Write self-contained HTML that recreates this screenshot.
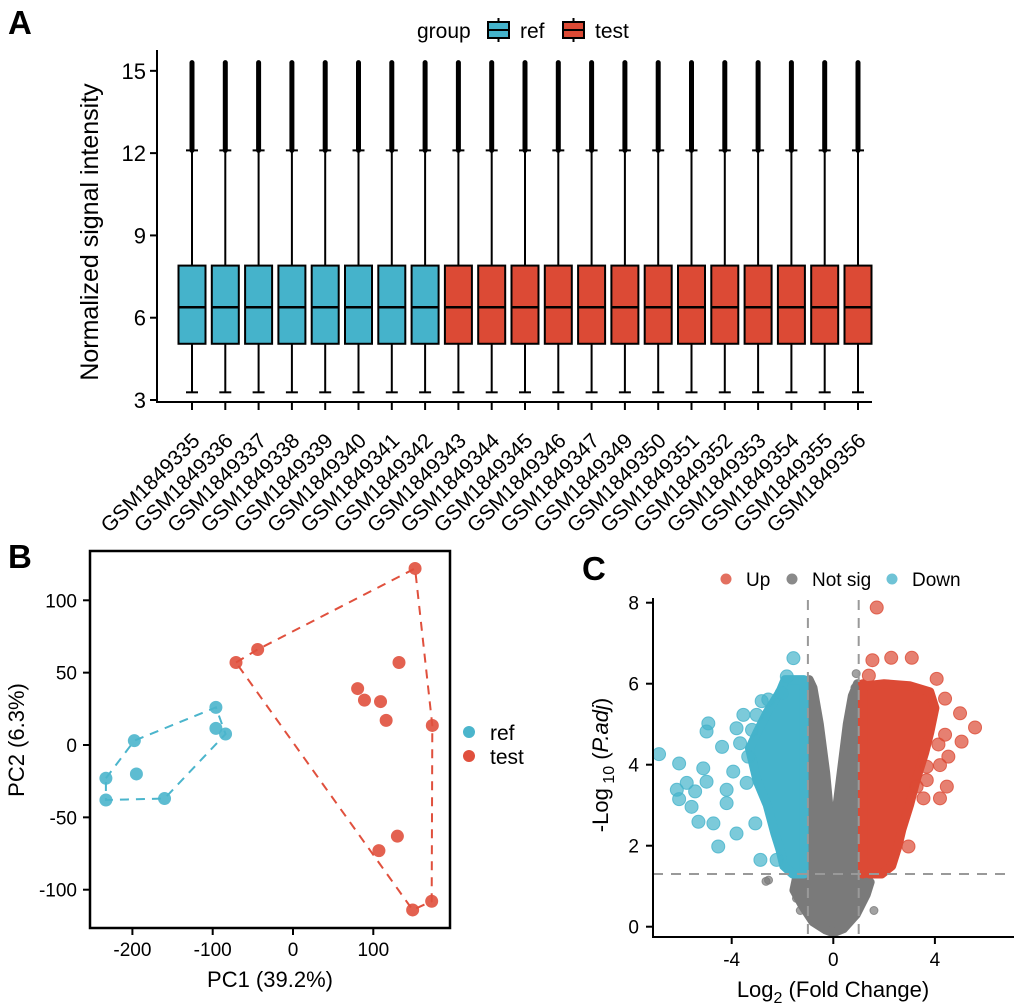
<!DOCTYPE html>
<html><head><meta charset="utf-8"><style>
body{margin:0;background:#fff;}
svg{display:block;font-family:"Liberation Sans",Arial,sans-serif;}
</style></head><body>
<svg id="fig" width="1020" height="1008" viewBox="0 0 1020 1008" xmlns="http://www.w3.org/2000/svg">
<text x="8" y="34" font-size="33" font-weight="bold">A</text>
<text x="8" y="568" font-size="33" font-weight="bold">B</text>
<text x="582" y="580" font-size="33" font-weight="bold">C</text>
<g id="pa"></g>
<g id="pb"></g>
<g id="pc"></g>
</svg>
<script>
// ---------- Panel A data ----------
const samples=["GSM1849335","GSM1849336","GSM1849337","GSM1849338","GSM1849339","GSM1849340","GSM1849341","GSM1849342","GSM1849343","GSM1849344","GSM1849345","GSM1849346","GSM1849347","GSM1849349","GSM1849350","GSM1849351","GSM1849352","GSM1849353","GSM1849354","GSM1849355","GSM1849356"];
const sampleGroup=["ref","ref","ref","ref","ref","ref","ref","ref","test","test","test","test","test","test","test","test","test","test","test","test","test"];
const boxQ1=[5.05,5.05,5.05,5.05,5.05,5.05,5.05,5.05,5.05,5.05,5.05,5.05,5.05,5.05,5.05,5.05,5.05,5.05,5.05,5.05,5.05];
const boxMed=[6.38,6.38,6.38,6.38,6.38,6.38,6.38,6.38,6.38,6.38,6.38,6.38,6.38,6.38,6.38,6.38,6.38,6.38,6.38,6.38,6.38];
const boxQ3=[7.9,7.9,7.9,7.9,7.9,7.9,7.9,7.9,7.9,7.9,7.9,7.9,7.9,7.9,7.9,7.9,7.9,7.9,7.9,7.9,7.9];
const boxLo=[3.28,3.28,3.28,3.28,3.28,3.28,3.28,3.28,3.28,3.28,3.28,3.28,3.28,3.28,3.28,3.28,3.28,3.28,3.28,3.28,3.28];
const boxHi=[12.1,12.1,12.1,12.1,12.1,12.1,12.1,12.1,12.1,12.1,12.1,12.1,12.1,12.1,12.1,12.1,12.1,12.1,12.1,12.1,12.1];
const outMax=[15.3,15.3,15.3,15.3,15.3,15.3,15.3,15.3,15.3,15.3,15.3,15.3,15.3,15.3,15.3,15.3,15.3,15.3,15.3,15.3,15.3];
const aTicks=[3,6,9,12,15];
// ---------- Panel B data ----------
const refPC1=[-233,-233,-197.6,-195,-160,-96,-96,-84];
const refPC2=[-23,-38,3,-20,-37,26,11.5,7.6];
const testPC1=[152,-44,-71,132,80.5,89,109,116,173.5,130,107,149,172.7];
const testPC2=[122,66,57,57,39,31,30,17,13.5,-63,-73,-114,-108];
const refHull=[0,2,5,7,4,1];
const testHull=[2,1,0,8,12,11];
const bXTicks=[-200,-100,0,100];
const bYTicks=[-100,-50,0,50,100];
// ---------- Panel C data ----------
const downX=[-1.57,-6.86,-6.07,-6.16,-6.07,-5.58,-5.31,-4.92,-4.99,-5.12,-4.99,-4.53,-4.72,-4.38,-3.94,-3.54,-3.02,-3.81,-3.2,-2.82,-2.56,-3.81,-4.2,-2.87,-2.23,-3.07,-4.2,-5.77,-5.44,-3.41,-1.83,-2.03,-3.67,-3.35];
const downY=[6.63,4.26,4.03,3.38,3.15,2.96,2.59,5.02,4.82,3.91,3.58,1.98,2.55,4.44,3.83,5.23,5.23,4.9,4.86,5.57,5.61,2.3,3.05,1.65,1.65,2.55,3.38,3.55,3.34,3.55,6.18,5.77,4.53,4.2];
const upX=[1.71,1.54,2.28,3.09,5.58,5.05,4.99,4.4,4.14,4.53,4.2,3.68,4.47,4.2,3.55,2.96,4.07,4.4,3.68,3.28,1.4];
const upY=[7.88,6.58,6.64,6.64,4.92,4.57,5.27,4.74,4.5,4.2,3.99,3.95,3.46,3.17,3.17,1.98,6.12,5.63,3.62,3.46,6.2];
const nsX=[-2.65,-2.55,-1.3,1.6,-1.45,1.3,0.9,0.85];
const nsY=[1.12,1.15,0.4,0.4,0.7,1.1,6.25,5.9];
// envelopes of the dense point clouds (data coords)
const downEnvX=[-1.15,-1.9,-2.1,-2.6,-3.0,-3.3,-3.0,-2.6,-2.3,-2.1,-1.95,-1.6,-1.15];
const downEnvY=[6.1,6.1,5.8,5.3,4.8,4.4,3.6,3.0,2.3,1.9,1.5,1.3,1.3];
const upEnvX=[1.15,1.3,2.0,3.0,3.8,4.0,3.8,3.6,3.25,3.0,2.7,2.55,2.3,1.9,1.15];
const upEnvY=[6.0,5.95,6.0,5.95,5.8,5.4,4.8,4.3,3.6,3.0,2.4,2.0,1.5,1.3,1.3];
const nsEnvX=[-0.95,-1.15,-1.15,-1.45,-1.55,-1.2,-0.8,-0.3,0,0.4,0.9,1.3,1.45,1.1,1.1,0.95,0.75,0.55,0.35,0.15,0.02,-0.12,-0.3,-0.55,-0.8];
const nsEnvY=[6.1,5.0,1.3,1.2,0.9,0.5,0.12,-0.08,-0.15,-0.05,0.3,0.8,1.1,1.3,5.0,6.0,5.7,5.0,4.0,3.0,2.1,2.6,3.8,5.0,5.9];
const cXTicks=[-4,0,4];
const cYTicks=[0,2,4,6,8];

const NS="http://www.w3.org/2000/svg";
function mk(parent,tag,attrs){const e=document.createElementNS(NS,tag);for(const k in attrs)e.setAttribute(k,attrs[k]);parent.appendChild(e);return e;}
const BLUE="#45B3CB", RED="#DC4A35";

// ---------- Panel A ----------
(function(){
const g=document.getElementById('pa');
const ay=v=>400-(v-3)*27.43;
const ax=i=>192+i*33.3;
for(let i=0;i<samples.length;i++){
  const x=ax(i), col=sampleGroup[i]==="ref"?BLUE:RED;
  const o=mk(g,'line',{x1:x,x2:x,y1:ay(boxHi[i]),y2:ay(outMax[i]),stroke:'#000','stroke-width':5,'stroke-linecap':'round'});
  
  
  const w=mk(g,'line',{x1:x,x2:x,y1:ay(boxLo[i]),y2:ay(boxHi[i]),stroke:'#000','stroke-width':2});
  
  
  mk(g,'line',{x1:x-6,x2:x+6,y1:ay(boxLo[i]),y2:ay(boxLo[i]),stroke:'#000','stroke-width':2});
  mk(g,'line',{x1:x-6,x2:x+6,y1:ay(boxHi[i]),y2:ay(boxHi[i]),stroke:'#000','stroke-width':2});
  const b=mk(g,'rect',{x:x-13.5,y:ay(boxQ3[i]),width:27,height:ay(boxQ1[i])-ay(boxQ3[i]),fill:col,stroke:'#000','stroke-width':2});
  
  
  mk(g,'line',{x1:x-13.5,x2:x+13.5,y1:ay(boxMed[i]),y2:ay(boxMed[i]),stroke:'#000','stroke-width':2.5});
  mk(g,'line',{x1:x,x2:x,y1:402,y2:410,stroke:'#000','stroke-width':2});
  const t=mk(g,'text',{transform:`translate(${x+9},${442}) rotate(-45)`,'text-anchor':'end','font-size':21});
  t.textContent=samples[i];
  
  
}
const yl=mk(g,'line',{x1:157,x2:157,y1:50,y2:403,stroke:'#000','stroke-width':2});


const xl=mk(g,'line',{x1:156,x2:872,y1:402,y2:402,stroke:'#000','stroke-width':2});


aTicks.forEach(v=>{
  mk(g,'line',{x1:150,x2:157,y1:ay(v),y2:ay(v),stroke:'#000','stroke-width':2});
  const t=mk(g,'text',{x:146,y:ay(v)+8,'text-anchor':'end','font-size':22});
  t.textContent=v;
  
  
});
const yt=mk(g,'text',{transform:'translate(98,232) rotate(-90)','text-anchor':'middle','font-size':25});
yt.textContent='Normalized signal intensity';


const lg=mk(g,'text',{x:417,y:38,'font-size':21});lg.textContent='group';


[[487,BLUE,'ref',520],[562,RED,'test',595]].forEach(([kx,c,lab,tx])=>{
  const k=mk(g,'g',{});
  
  
  mk(k,'line',{x1:kx+11.5,x2:kx+11.5,y1:18,y2:42,stroke:'#000','stroke-width':2});
  mk(k,'rect',{x:kx+1,y:22,width:21,height:16,fill:c,stroke:'#000','stroke-width':2});
  mk(k,'line',{x1:kx+1,x2:kx+22,y1:30,y2:30,stroke:'#000','stroke-width':2});
  const t=mk(k,'text',{x:tx,y:38,'font-size':21});t.textContent=lab;
});
})();

// ---------- Panel B ----------
(function(){
const g=document.getElementById('pb');
const bx=v=>293+v*0.803, by=v=>745-v*1.447;
const fr=mk(g,'rect',{x:90,y:551,width:360,height:377,fill:'none',stroke:'#000','stroke-width':2.5});


function hull(X,Y,idx,c,name){
  const p=mk(g,'polygon',{points:idx.map(i=>bx(X[i])+','+by(Y[i])).join(' '),fill:'none',stroke:c,'stroke-width':2,'stroke-dasharray':'9,7'});
  
  
}
hull(refPC1,refPC2,refHull,'#4BB5CC','ref-hull');
hull(testPC1,testPC2,testHull,'#E0503D','test-hull');
function pts(X,Y,c,name){X.forEach((x,i)=>{const e=mk(g,'circle',{cx:bx(x),cy:by(Y[i]),r:6.5,fill:c,'fill-opacity':0.9});
  
  });}
pts(refPC1,refPC2,'#4BB5CC','ref-point');
pts(testPC1,testPC2,'#E0503D','test-point');
bXTicks.forEach(v=>{mk(g,'line',{x1:bx(v),x2:bx(v),y1:928,y2:935,stroke:'#000','stroke-width':2});
  const t=mk(g,'text',{x:bx(v),y:956,'text-anchor':'middle','font-size':19});t.textContent=v;
  
  });
bYTicks.forEach(v=>{mk(g,'line',{x1:83,x2:90,y1:by(v),y2:by(v),stroke:'#000','stroke-width':2});
  const t=mk(g,'text',{x:77,y:by(v)+7,'text-anchor':'end','font-size':19});t.textContent=v;
  
  });
const xt=mk(g,'text',{x:270,y:987,'text-anchor':'middle','font-size':22});xt.textContent='PC1 (39.2%)';


const yt=mk(g,'text',{transform:'translate(24,740) rotate(-90)','text-anchor':'middle','font-size':22});yt.textContent='PC2 (6.3%)';


[['ref','#4BB5CC',732],['test','#E0503D',756]].forEach(([l,c,y])=>{
  const k=mk(g,'g',{});
  
  
  mk(k,'circle',{cx:469,cy:y,r:6,fill:c});
  const t=mk(k,'text',{x:490,y:y+8,'font-size':21});t.textContent=l;
});
})();

// ---------- Panel C ----------
(function(){
const g=document.getElementById('pc');
const cx=v=>833.3+v*25.4, cy=v=>926.7-v*40.5;
function env(X,Y,c,name){
  const p=mk(g,'polygon',{points:X.map((x,i)=>cx(x)+','+cy(Y[i])).join(' '),fill:c,stroke:c,'stroke-width':9,'stroke-linejoin':'round'});
  
  
}
env(nsEnvX,nsEnvY,'#7A7A7A','not-sig-cloud');
env(downEnvX,downEnvY,'#45B3CB','down-cloud');
env(upEnvX,upEnvY,'#DC4A35','up-cloud');
function pts(X,Y,c,name,r){X.forEach((x,i)=>{const e=mk(g,'circle',{cx:cx(x),cy:cy(Y[i]),r:r,fill:c,'fill-opacity':0.7,stroke:c,'stroke-opacity':0.8});
  
  });}
pts(nsX,nsY,'#7A7A7A','not-sig-point',4);
pts(downX,downY,'#45B3CB','down-point',6.5);
pts(upX,upY,'#DC4A35','up-point',6.5);
[-1,1].forEach(v=>{const l=mk(g,'line',{x1:cx(v),x2:cx(v),y1:600,y2:936,stroke:'#999','stroke-width':2,'stroke-dasharray':'10,8'});
  
  });
const h=mk(g,'line',{x1:653,x2:1012,y1:cy(1.3),y2:cy(1.3),stroke:'#999','stroke-width':2,'stroke-dasharray':'10,8'});


const ya=mk(g,'line',{x1:653,x2:653,y1:598,y2:937,stroke:'#000','stroke-width':2});


const xa=mk(g,'line',{x1:652,x2:1014,y1:937,y2:937,stroke:'#000','stroke-width':2});


cXTicks.forEach(v=>{mk(g,'line',{x1:cx(v),x2:cx(v),y1:937,y2:944,stroke:'#000','stroke-width':2});
  const t=mk(g,'text',{x:cx(v),y:966,'text-anchor':'middle','font-size':19});t.textContent=v;
  
  });
cYTicks.forEach(v=>{mk(g,'line',{x1:646,x2:653,y1:cy(v),y2:cy(v),stroke:'#000','stroke-width':2});
  const t=mk(g,'text',{x:639,y:cy(v)+7,'text-anchor':'end','font-size':19});t.textContent=v;
  
  });
const xt=mk(g,'text',{x:833,y:997,'text-anchor':'middle','font-size':22});
xt.innerHTML='Log<tspan font-size="16" dy="6">2</tspan><tspan dy="-6"> (Fold Change)</tspan>';


const yt=mk(g,'text',{transform:'translate(608,765) rotate(-90)','text-anchor':'middle','font-size':22});
yt.innerHTML='-Log<tspan font-size="16" dy="6"> 10</tspan><tspan dy="-6"> (</tspan><tspan font-style="italic">P.adj</tspan>)';


[['Up','#E37060',726,746],['Not sig','#8A8A8A',792,812],['Down','#6FC3D6',892,912]].forEach(([l,c,x,tx])=>{
  const k=mk(g,'g',{});
  
  
  mk(k,'circle',{cx:x,cy:579,r:5.5,fill:c});
  const t=mk(k,'text',{x:tx,y:586,'font-size':19});t.textContent=l;
});
})();
</script>
</body></html>
